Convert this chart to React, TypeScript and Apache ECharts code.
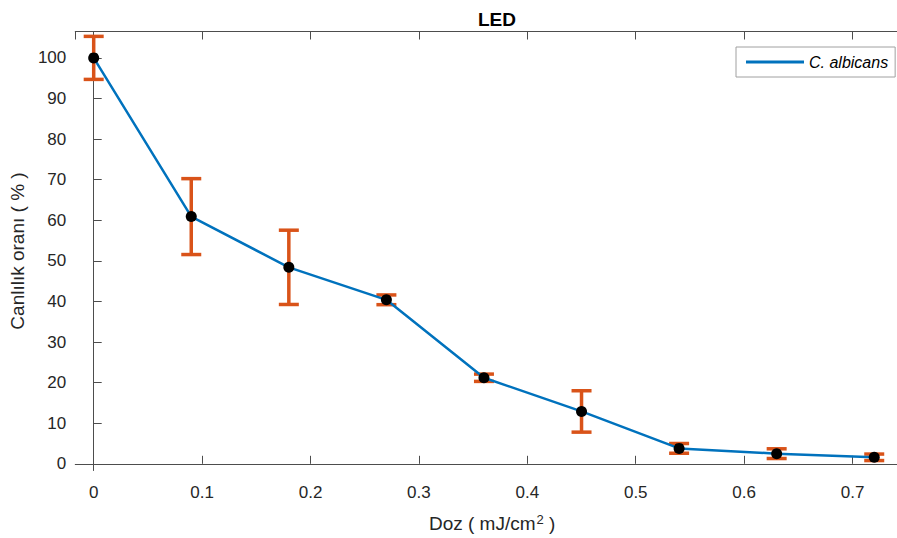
import React, { useEffect, useRef } from "react";
import * as echarts from "echarts";

const doses = [0, 0.09, 0.18, 0.27, 0.36, 0.45, 0.54, 0.63, 0.72];
const viability = [100, 60.9, 48.4, 40.4, 21.2, 12.9, 3.8, 2.5, 1.6];
const errors = [5.3, 9.35, 9.15, 1.2, 0.9, 5.1, 1.2, 1.2, 0.8];
const seriesName = "C. albicans";
const titleText = "LED";
const xName = "Doz ( mJ/cm{sup|2} )";
const yName = "Canlılık oranı ( % )";

export default function App() {
  const ref = useRef<HTMLDivElement>(null);
  useEffect(() => {
    if (!ref.current) return;
    const chart = echarts.init(ref.current, undefined, { renderer: "svg" });
    const lineData = doses.map((d, i) => [d, viability[i]]);
    const errData = doses.map((d, i) => [d, viability[i], errors[i]]);
    const font = "Liberation Sans, Arial, Helvetica, sans-serif";
    const tickColor = "#262626";
    const xCommon = {
      type: "value",
      min: -0.017,
      max: 0.741,
      splitNumber: 7,
      splitLine: { show: false },
      axisLine: { show: true, lineStyle: { color: "#4d4d4d", width: 1 } },
      axisTick: { show: true, inside: true, length: 8, lineStyle: { color: "#4d4d4d" } },
    };
    chart.setOption({
      animation: false,
      backgroundColor: "#ffffff",
      textStyle: { fontFamily: font },
      title: {
        text: titleText,
        left: 492,
        top: 5,
        textAlign: "center",
        textStyle: { fontFamily: font, fontSize: 19, fontWeight: "bold", color: "#000" },
      },
      legend: {
        left: 736,
        top: 47,
        orient: "vertical",
        padding: [7, 7, 7, 10],
        itemWidth: 58,
        itemHeight: 3,
        borderColor: "#a0a0a0",
        borderWidth: 1,
        backgroundColor: "#fff",
        data: [{ name: seriesName, icon: "rect", itemStyle: { color: "#0072BD" } }],
        textStyle: { fontFamily: font, fontSize: 16, fontStyle: "italic", color: "#000" },
      },
      grid: { left: 74.5, top: 31.5, bottom: 64, right: 0, containLabel: false },
      xAxis: [
        {
          ...xCommon,
          position: "bottom",
          name: xName,
          nameLocation: "middle",
          nameGap: 42,
          nameTextStyle: {
            fontFamily: font,
            fontSize: 19,
            color: tickColor,
            padding: [0, 0, 0, 12],
            rich: {
              sup: { fontFamily: font, fontSize: 13, color: tickColor, verticalAlign: "top", padding: [0, 0, 9, 1] },
            },
          },
          axisLabel: {
            show: true,
            margin: 13,
            fontFamily: font,
            fontSize: 17,
            color: tickColor,
            showMinLabel: false,
            showMaxLabel: false,
          },
        },
        {
          ...xCommon,
          position: "top",
          axisLabel: { show: false },
        },
      ],
      yAxis: [
        {
          type: "value",
          min: -1.65,
          max: 106.5,
          splitNumber: 10,
          splitLine: { show: false },
          axisLine: { show: true, lineStyle: { color: "#4d4d4d", width: 1 } },
          axisTick: { show: true, inside: true, length: 8, lineStyle: { color: "#4d4d4d" } },
          axisLabel: {
            margin: 9,
            fontFamily: font,
            fontSize: 17,
            color: tickColor,
            showMinLabel: false,
            showMaxLabel: false,
          },
          name: yName,
          nameLocation: "middle",
          nameGap: 48,
          nameTextStyle: { fontFamily: font, fontSize: 19, color: tickColor },
        },
      ],
      series: [
        {
          type: "custom",
          name: "err",
          xAxisIndex: 0,
          yAxisIndex: 0,
          z: 1,
          encode: { x: 0, y: 1 },
          data: errData,
          renderItem: (params: any, api: any) => {
            const x = api.value(0);
            const y = api.value(1);
            const e = api.value(2);
            const top = api.coord([x, y + e]);
            const bot = api.coord([x, y - e]);
            const hw = 10;
            const style = { stroke: "#D95319", lineWidth: 3.5, fill: "none" };
            return {
              type: "group",
              children: [
                { type: "line", shape: { x1: top[0], y1: top[1], x2: bot[0], y2: bot[1] }, style },
                { type: "line", shape: { x1: top[0] - hw, y1: top[1], x2: top[0] + hw, y2: top[1] }, style },
                { type: "line", shape: { x1: bot[0] - hw, y1: bot[1], x2: bot[0] + hw, y2: bot[1] }, style },
              ],
            };
          },
        },
        {
          type: "line",
          name: seriesName,
          xAxisIndex: 0,
          yAxisIndex: 0,
          z: 3,
          data: lineData,
          symbol: "circle",
          symbolSize: 11,
          showAllSymbol: true,
          lineStyle: { color: "#0072BD", width: 2.5 },
          itemStyle: { color: "#000", borderWidth: 0 },
        },
      ],
    });
    return () => chart.dispose();
  }, []);
  return (
    <div
      ref={ref}
      style={{ position: "fixed", left: 0, top: 0, width: 897, height: 538, background: "#fff" }}
    />
  );
}
